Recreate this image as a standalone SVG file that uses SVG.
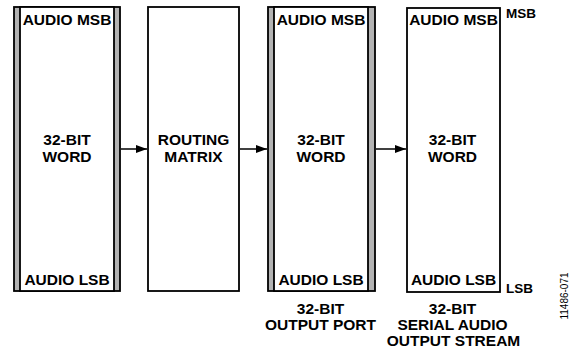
<svg xmlns="http://www.w3.org/2000/svg" width="574" height="350" viewBox="0 0 574 350">
<style>
text{font-family:"Liberation Sans",Arial,sans-serif;font-weight:bold;fill:#000}
.t{font-size:15.5px}
.c{text-anchor:middle}
.s{font-size:13.5px}
.outer{fill:#b3b3b3;stroke:#000;stroke-width:1.8}
.inner{fill:#fff;stroke:#000;stroke-width:1.8}
.box{fill:#fff;stroke:#000;stroke-width:1.8}
.conn{stroke:#000;stroke-width:1.5;fill:none}
.id{font-family:"Liberation Sans",Arial,sans-serif;font-weight:normal;font-size:10px}
</style>
<defs>
<marker id="ah" markerWidth="11" markerHeight="8" refX="11" refY="4" orient="auto" markerUnits="userSpaceOnUse">
<path d="M0,0 L11,4 L0,8 Z" fill="#000"/>
</marker>
</defs>
<g id="word1">
<rect class="outer" x="14" y="7" width="106" height="284"/>
<rect class="inner" x="20" y="7" width="94" height="284"/>
<text class="t c" x="67" y="25">AUDIO MSB</text>
<text class="t c" x="67" y="145">32-BIT</text>
<text class="t c" x="67" y="161.5">WORD</text>
<text class="t c" x="67" y="285">AUDIO LSB</text>
</g>
<g id="routing">
<rect class="box" x="148" y="7" width="91" height="284"/>
<text class="t c" x="193.5" y="145">ROUTING</text>
<text class="t c" x="193.5" y="161.5">MATRIX</text>
</g>
<g id="outport">
<rect class="outer" x="268" y="7" width="107" height="284"/>
<rect class="inner" x="274" y="7" width="94" height="284"/>
<text class="t c" x="321" y="25">AUDIO MSB</text>
<text class="t c" x="321" y="145">32-BIT</text>
<text class="t c" x="321" y="161.5">WORD</text>
<text class="t c" x="321" y="285">AUDIO LSB</text>
<text class="t c" x="320.5" y="314">32-BIT</text>
<text class="t c" x="320.5" y="330">OUTPUT PORT</text>
</g>
<g id="serial">
<rect class="box" x="407" y="8" width="93" height="284"/>
<text class="t c" x="453.5" y="25">AUDIO MSB</text>
<text class="t c" x="452.5" y="145">32-BIT</text>
<text class="t c" x="452.5" y="161.5">WORD</text>
<text class="t c" x="453.5" y="285">AUDIO LSB</text>
<text class="s" x="506" y="18">MSB</text>
<text class="s" x="506" y="292.5">LSB</text>
<text class="t c" x="452.5" y="314">32-BIT</text>
<text class="t c" x="452.5" y="330">SERIAL AUDIO</text>
<text class="t c" x="453.5" y="345.5">OUTPUT STREAM</text>
</g>
<g id="connectors">
<line class="conn" x1="121" y1="149" x2="147" y2="149" marker-end="url(#ah)"/>
<line class="conn" x1="240" y1="149" x2="267" y2="149" marker-end="url(#ah)"/>
<line class="conn" x1="376" y1="149" x2="406" y2="149" marker-end="url(#ah)"/>
</g>
<text class="id" transform="translate(568,296) rotate(-90)" text-anchor="middle">11486-071</text>
</svg>
